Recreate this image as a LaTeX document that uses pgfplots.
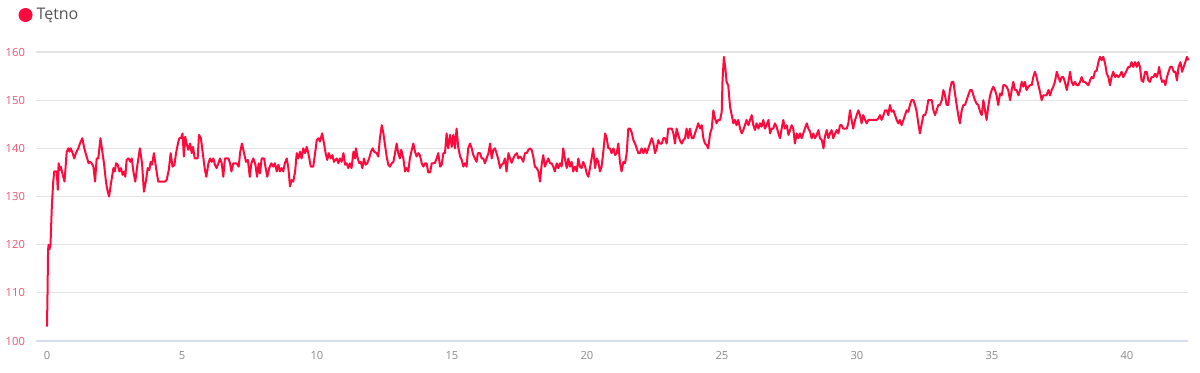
\documentclass[border=0pt]{standalone}
\usepackage{fontspec}
\setmainfont{Open Sans}
\usepackage{pgfplots}
\usepackage{pgfplotstable}
\pgfplotsset{compat=1.18}
\definecolor{tred}{HTML}{FF0A3C}
\definecolor{ylab}{HTML}{F0506E}
\definecolor{xlab}{HTML}{8A8A8A}
\definecolor{gridc}{HTML}{E3E3E3}
\definecolor{baseax}{HTML}{D6DDF0}
\definecolor{legt}{HTML}{555555}
\pgfplotstableread{
x y
0 103
0.02 110
0.04 119
0.06 120
0.09 119
0.13 120
0.18 128
0.23 133
0.27 135.2
0.36 135.2
0.40 131.4
0.43 136.9
0.47 135.5
0.51 136.2
0.57 134.8
0.65 133.1
0.73 139.3
0.79 140
0.83 139.3
0.88 140
0.95 139
1.01 137.9
1.07 139
1.16 140
1.22 141
1.31 142.1
1.37 140.3
1.43 139
1.49 137.9
1.54 136.9
1.59 137.2
1.65 136.9
1.72 136.2
1.78 133.1
1.84 137.9
1.90 137.9
1.98 142.1
2.04 139.7
2.11 136.9
2.19 132.8
2.25 131
2.30 130
2.36 132.4
2.41 134.1
2.46 135.9
2.51 135.2
2.56 136.9
2.62 136.6
2.68 135.2
2.74 135.9
2.80 134.5
2.86 135.2
2.90 134.1
2.95 137.6
3.02 137.9
3.09 137.2
3.14 137.9
3.20 135.2
3.27 133.1
3.35 136.6
3.44 140
3.52 136.9
3.59 131
3.67 133.4
3.73 135.9
3.79 135.5
3.84 137.2
3.89 136.6
3.96 139
4.04 135.9
4.12 133.1
4.25 133.1
4.37 133.1
4.43 133.4
4.51 135.5
4.58 139
4.65 136.2
4.72 136.6
4.78 139
4.85 141
4.90 142.1
4.96 142.1
5.02 143.1
5.07 138.3
5.12 142.4
5.17 141
5.23 139.7
5.30 141
5.36 139
5.41 140.3
5.47 137.9
5.58 137.9
5.63 142.8
5.70 142.1
5.77 139
5.84 135.9
5.90 134.1
5.98 136.9
6.04 137.9
6.10 137.2
6.16 137.9
6.22 136.6
6.28 135.9
6.35 136.9
6.41 137.9
6.47 136.9
6.53 134.1
6.59 137.9
6.72 137.9
6.78 136.9
6.83 135.2
6.90 136.9
7.02 136.9
7.10 136.2
7.15 139
7.22 141
7.30 139
7.37 137.2
7.44 137.6
7.51 134.1
7.57 136.9
7.64 137.9
7.72 136.6
7.78 134.1
7.84 136.9
7.89 134.8
7.95 137.9
8.04 137.9
8.10 135.9
8.16 134.1
8.23 135.9
8.31 136.9
8.38 136.2
8.44 136.9
8.51 135.2
8.57 136.6
8.63 135.2
8.69 135.9
8.75 135.2
8.81 136.9
8.88 137.9
8.94 135.9
9.00 132.1
9.06 133.4
9.12 133.1
9.19 135.2
9.25 139
9.31 137.9
9.37 139.3
9.43 137.9
9.49 140
9.56 139
9.62 140.3
9.68 139
9.77 136.2
9.86 136.2
9.93 139
9.99 141.7
10.06 142.1
10.11 141.4
10.19 143.1
10.26 141
10.32 139
10.38 137.6
10.44 139
10.51 137.9
10.57 138.6
10.63 137.2
10.73 137.9
10.79 136.9
10.85 137.9
10.91 137.2
10.98 139
11.04 136.6
11.10 136.9
11.16 135.9
11.22 136.9
11.28 135.9
11.35 139.3
11.41 137.9
11.44 140
11.51 137.9
11.57 136.9
11.62 137.2
11.68 135.9
11.74 137.9
11.80 136.6
11.86 136.9
11.93 137.9
12.00 139.3
12.06 140
12.12 139.3
12.21 139
12.27 138.3
12.33 142.1
12.40 144.8
12.46 143.1
12.52 140.7
12.58 138.3
12.64 136.6
12.70 136.2
12.77 136.9
12.83 137.2
12.89 139
12.95 141
13.01 139
13.07 137.9
13.12 139.7
13.20 137.9
13.26 135.2
13.32 135.9
13.38 135.2
13.44 137.9
13.51 139.7
13.57 141
13.63 139.3
13.69 138.3
13.75 139
13.81 138.6
13.88 136.9
13.94 136.2
14.00 136.9
14.06 136.9
14.12 135
14.19 135
14.25 136.9
14.31 136.9
14.37 137
14.43 137.9
14.49 139
14.56 136.2
14.62 136.6
14.68 139
14.74 139
14.80 143.1
14.86 140
14.93 142.8
14.99 140.3
15.05 142.8
15.11 140
15.17 144.1
15.23 140.3
15.30 138.3
15.36 137.6
15.42 136.2
15.48 136.9
15.54 136.2
15.60 140
15.67 141
15.73 140
15.79 138.6
15.85 137.9
15.91 137.2
15.96 139
16.04 139
16.10 137.9
16.16 137.9
16.22 136.9
16.28 137.9
16.35 139
16.41 141
16.47 137.9
16.53 139.7
16.59 140
16.65 139
16.72 137.6
16.78 135.9
16.84 136.6
16.90 136.9
16.96 137.9
17.02 135.2
17.09 139
17.15 137.9
17.21 137
17.27 137.9
17.33 138.6
17.40 139
17.46 137.9
17.52 138.3
17.58 137.9
17.64 137.2
17.70 139
17.77 139
17.83 139.7
17.89 140
17.95 139.7
18.01 138.3
18.07 136.2
18.14 135.9
18.20 135.2
18.26 133.1
18.32 136.6
18.38 138.6
18.44 136.2
18.51 137.2
18.57 137.9
18.63 136.9
18.69 136.9
18.75 136.2
18.81 135.2
18.88 136.9
18.94 135.9
19.00 136.9
19.06 136.2
19.12 140
19.19 137.6
19.25 135.9
19.31 137.9
19.37 136.2
19.43 137.2
19.49 135.2
19.56 136.2
19.62 135.2
19.68 137.9
19.74 136.2
19.80 135.9
19.86 137.2
19.93 136.2
19.99 134.8
20.05 134.1
20.11 135.9
20.17 137.9
20.23 140
20.30 135.9
20.36 137.9
20.42 137.2
20.48 135.2
20.54 136.2
20.60 139
20.67 143.1
20.73 142.1
20.79 140
20.85 140
20.91 139
20.98 140
21.04 138.6
21.10 139
21.16 141
21.22 137.2
21.28 135.2
21.35 137.2
21.41 136.9
21.47 139
21.53 144.1
21.59 144.1
21.65 143.4
21.72 141.7
21.78 141
21.84 140
21.90 139
21.96 139
22.02 140
22.09 139
22.15 140
22.21 139
22.27 140
22.33 141
22.40 142.1
22.46 141
22.52 139
22.58 140
22.64 141.7
22.70 141
22.77 141
22.83 142.1
22.89 142.1
22.95 141
23.01 144.1
23.07 144.1
23.14 144.1
23.20 143.1
23.26 141
23.32 144.1
23.38 142.8
23.44 141.7
23.51 141
23.57 141.7
23.63 142.1
23.69 144.1
23.75 142.1
23.81 144.1
23.88 142.1
23.94 142.1
24.00 143.1
24.06 144.1
24.12 145.2
24.19 144.1
24.25 144.8
24.31 142.1
24.37 141
24.43 140.7
24.49 140
24.56 143.1
24.62 144.1
24.68 147.9
24.74 146.2
24.80 145.2
24.86 145.9
24.93 145.9
24.99 147.6
25.02 154.1
25.07 159
25.12 156.9
25.17 153.8
25.23 153.1
25.30 148.6
25.36 146.9
25.42 145.2
25.48 145.9
25.54 144.8
25.60 145.9
25.67 144.1
25.73 143.1
25.79 143.8
25.85 144.8
25.91 145.9
25.98 144.8
26.04 145.9
26.10 146.9
26.16 144.8
26.22 143.8
26.28 145.2
26.35 144.1
26.41 145.2
26.47 144.5
26.53 145.9
26.59 144.1
26.65 144.8
26.72 145.9
26.78 143.1
26.84 144.1
26.90 144.1
26.96 145.2
27.02 144.5
27.09 143.1
27.15 142.1
27.21 144.1
27.27 145.9
27.33 144.1
27.40 144.8
27.46 142.8
27.52 143.8
27.58 144.8
27.64 144.1
27.70 141
27.77 143.1
27.83 142.1
27.89 143.1
27.95 142.1
28.01 143.1
28.07 144.1
28.14 145.2
28.20 144.1
28.26 143.5
28.32 142.1
28.38 143.1
28.44 142.1
28.51 142.8
28.57 143.8
28.63 142.1
28.70 141.7
28.76 140
28.81 142.4
28.88 143.8
28.94 142.1
29.00 143.1
29.06 143.8
29.12 142.1
29.19 143.1
29.25 143.8
29.31 143.1
29.37 144.8
29.43 144.8
29.49 144.1
29.56 144.1
29.62 144.1
29.68 145.2
29.74 147.9
29.80 145.9
29.86 144.1
29.93 145.9
29.99 146.9
30.05 147.9
30.11 146.9
30.17 145.2
30.23 146.9
30.30 145.9
30.36 145.2
30.42 145.9
30.48 145.9
30.60 145.9
30.73 145.9
30.79 146.2
30.85 146.9
30.91 145.9
30.98 146.9
31.04 147.9
31.10 147.9
31.16 146.9
31.22 149
31.28 147.6
31.35 147.9
31.41 146.9
31.47 145.9
31.53 145.2
31.59 145.9
31.65 144.8
31.72 145.9
31.78 146.9
31.84 147.9
31.90 147.6
31.96 149
32.02 150
32.09 150
32.15 149
32.21 147.6
32.27 145.2
32.33 143.1
32.40 145.2
32.46 146.9
32.52 146.9
32.58 147.9
32.64 150
32.70 150
32.77 150
32.83 147.9
32.89 146.9
32.95 147.9
33.01 149
33.07 149
33.14 150
33.20 152.1
33.26 151
33.32 149
33.38 149
33.44 152.1
33.51 153.8
33.57 153.8
33.63 151.4
33.69 149
33.75 146.9
33.81 145.2
33.88 147.9
33.94 149
34.00 149
34.06 150
34.12 151
34.19 152.1
34.25 152.1
34.31 151
34.37 150
34.43 149.3
34.49 149
34.56 147.6
34.62 146.9
34.68 150
34.74 147.9
34.80 145.9
34.86 148.6
34.93 151
34.99 152.1
35.05 152.8
35.11 152.1
35.17 151
35.23 149
35.30 151.4
35.36 151
35.42 153.1
35.48 153.1
35.54 152.8
35.60 152.1
35.67 150
35.73 152.1
35.79 153.8
35.85 152.1
35.91 152.1
35.98 151
36.04 152.1
36.10 153.8
36.16 152.8
36.22 153.8
36.28 152.1
36.35 152.8
36.41 153.1
36.47 153.1
36.53 154.8
36.59 155.9
36.65 154.8
36.72 153.1
36.78 151.7
36.84 150
36.90 151
36.96 151
37.02 151
37.09 152.1
37.15 151
37.21 152.1
37.27 152.8
37.33 153.8
37.40 155.9
37.46 154.8
37.52 153.8
37.58 154.8
37.64 154.8
37.70 153.8
37.77 152.1
37.83 153.8
37.89 155.9
37.95 153.8
38.01 153.1
38.07 153.8
38.14 153.1
38.20 153.1
38.26 153.8
38.32 154.8
38.38 153.8
38.44 153.8
38.51 153.4
38.57 153.1
38.63 154.1
38.69 154.8
38.75 154.5
38.81 155.9
38.88 156.2
38.94 157.9
39.00 159
39.06 158.3
39.12 159
39.19 157.6
39.25 155.5
39.31 154.8
39.37 153.1
39.43 154.8
39.49 155.9
39.56 154.8
39.62 155.2
39.68 154.8
39.74 155.2
39.80 155.9
39.86 154.8
39.93 155.5
39.99 156.2
40.05 156.9
40.11 156.9
40.17 157.9
40.23 156.9
40.30 157.9
40.36 156.9
40.42 157.9
40.48 156.9
40.54 154.1
40.60 153.8
40.67 155.9
40.73 155.9
40.79 154.1
40.85 153.8
40.91 154.8
40.98 154.8
41.04 155.5
41.10 154.8
41.16 155.9
41.19 156.9
41.25 154.8
41.30 153.8
41.36 154.1
41.42 153.1
41.48 154.8
41.54 155.9
41.60 156.9
41.67 156.9
41.73 155.9
41.79 155.9
41.85 154.1
41.91 156.9
41.98 157.9
42.04 155.9
42.10 156.9
42.16 157.9
42.22 159
42.28 158.3
}\hr
\begin{document}
\begin{tikzpicture}
\useasboundingbox (-18pt,-15.5pt) rectangle (582pt,170.5pt);
\begin{axis}[
  at={(0pt,0pt)}, anchor=south west,
  scale only axis,
  width=576pt, height=144.5pt,
  xmin=-0.407, xmax=42.26,
  ymin=100, ymax=160,
  xtick={0,5,...,40},
  ytick={100,110,...,160},
  ymajorgrids, grid style={gridc, line width=0.6pt},
  axis x line*=bottom, axis y line*=left,
  x axis line style={baseax, line width=0.8pt, -},
  y axis line style={draw=none},
  major tick length=0pt,
  /pgf/number format/assume math mode=true,
  ticklabel style={font=\fontsize{5.6}{6}\selectfont},
  yticklabel style={ylab, xshift=-2pt},
  xticklabel style={xlab, yshift=-1.5pt},
  clip=false,
  legend style={at={(-0.0155,1.128)}, anchor=west, draw=none, fill=none,
     font=\fontsize{8}{9}\selectfont\color{legt}, inner sep=0pt},
  legend image code/.code={\fill[tred] (2.6pt,0pt) circle (3pt);},
  legend cell align=left,
]
\addplot[tred, line width=1pt, line join=round] table[x=x, y=y] {\hr};
\addlegendentry{Tętno}
\end{axis}
\end{tikzpicture}
\end{document}
